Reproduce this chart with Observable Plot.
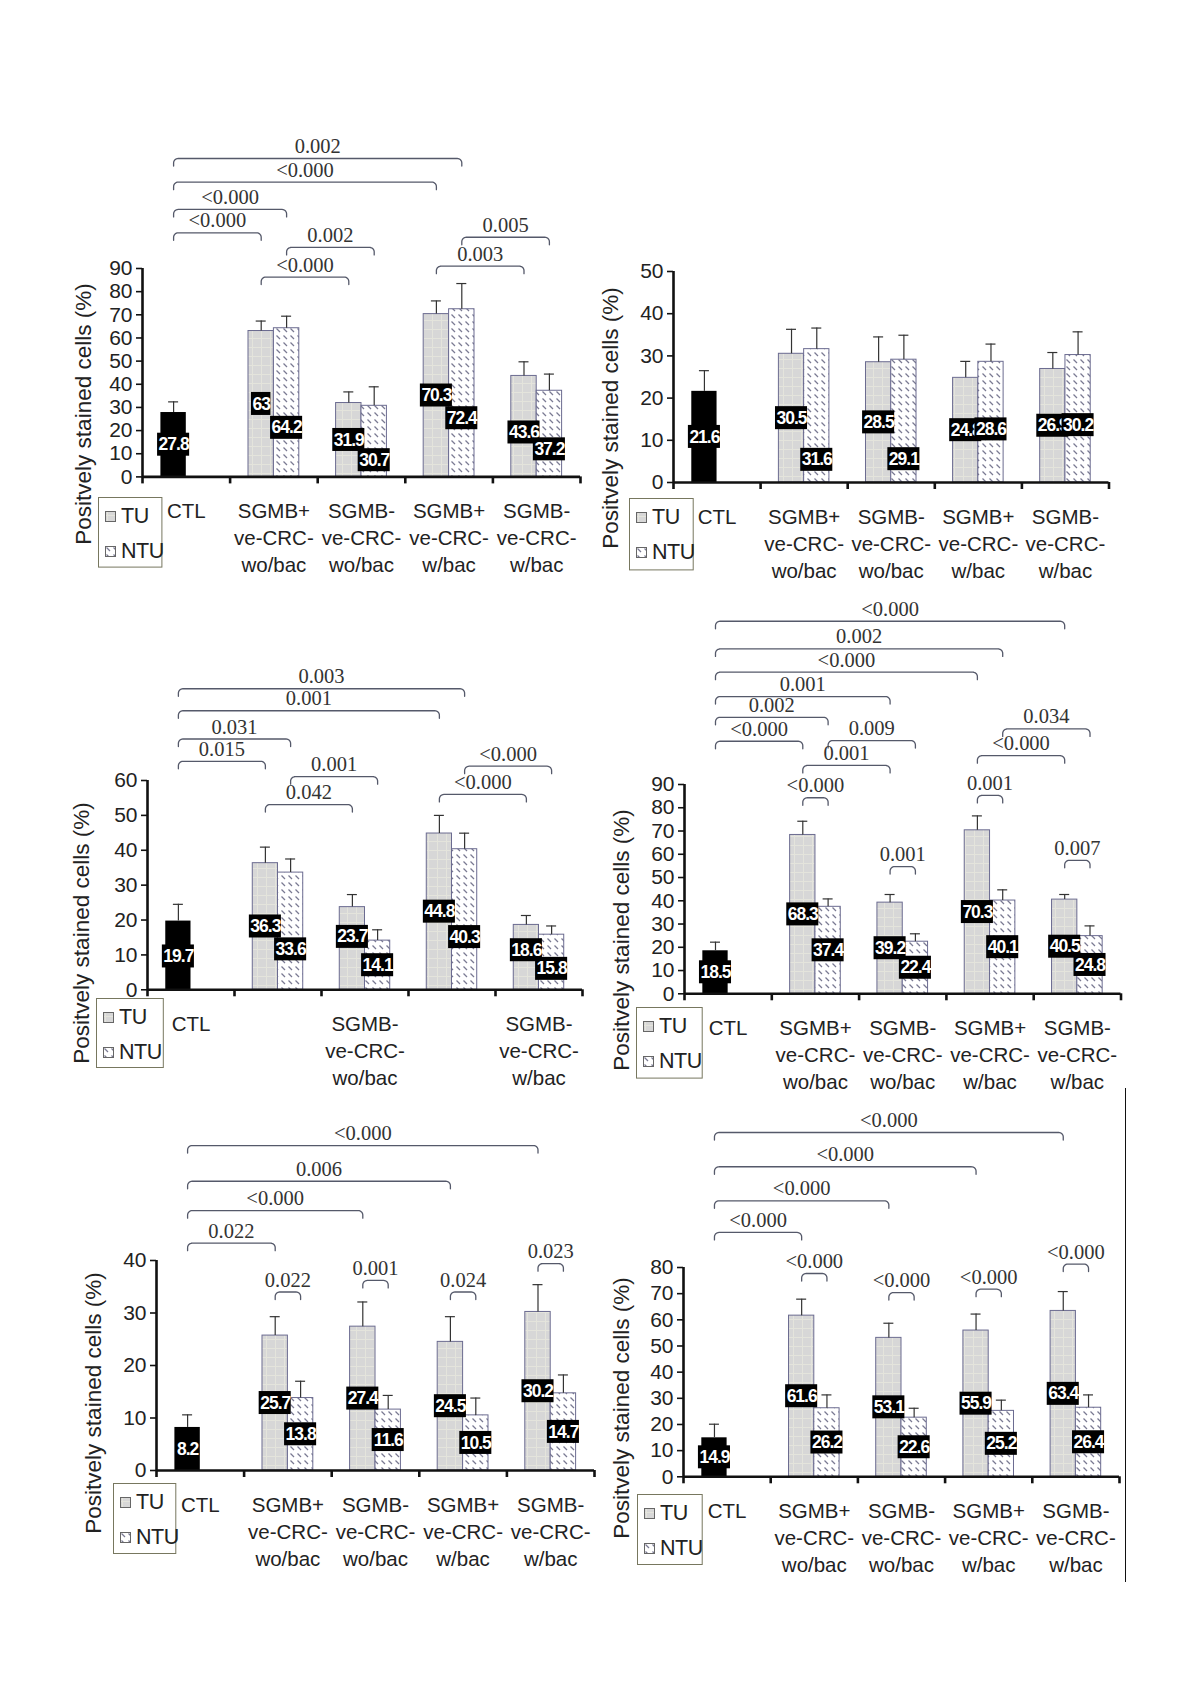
<!DOCTYPE html>
<html>
<head>
<meta charset="utf-8">
<script src="https://cdn.jsdelivr.net/npm/d3@7"></script>
<script src="https://cdn.jsdelivr.net/npm/@observablehq/plot@0.6"></script>
<style>
  body { margin: 0; background: #fff; }
  #page { position: relative; width: 1200px; height: 1697px; overflow: hidden; background: #fff;
          font-family: "Liberation Sans", Arial, sans-serif; color: #222; }
  .ytitle { position: absolute; white-space: nowrap; font-size: 22.5px; color: #222;
            transform: translate(-50%, -50%) rotate(-90deg); }
  svg { display: block; }
</style>
</head>
<body>
<div id="page"></div>
<script>
// ---------------- DATA ----------------
const categories = ["CTL", "SGMB+\nve-CRC-\nwo/bac", "SGMB-\nve-CRC-\nwo/bac", "SGMB+\nve-CRC-\nw/bac", "SGMB-\nve-CRC-\nw/bac"];
const categoriesP3 = ["CTL", "", "SGMB-\nve-CRC-\nwo/bac", "", "SGMB-\nve-CRC-\nw/bac"];
const seriesNames = ["TU", "NTU"];
const yTitle = "Positvely stained cells (%)";

const p1TU = [27.8, 63, 31.9, 70.3, 43.6];
const p1NTU = [null, 64.2, 30.7, 72.4, 37.2];
const p1TUerr = [4.6, 4.3, 4.8, 5.7, 6.1];
const p1NTUerr = [null, 5.2, 8.2, 11.1, 7.2];
const p1Ticks = [0, 10, 20, 30, 40, 50, 60, 70, 80, 90];
// [group, series, group, series, p-value, bracket level]
const p1Brackets = [
  [0, 0, 3, 1, "0.002", 137.5],
  [0, 0, 3, 0, "<0.000", 127.3],
  [0, 0, 1, 1, "<0.000", 115.5],
  [0, 0, 1, 0, "<0.000", 105.4],
  [1, 1, 2, 1, "0.002", 99.1],
  [1, 0, 2, 0, "<0.000", 86.3],
  [3, 0, 4, 0, "0.003", 91],
  [3, 1, 4, 1, "0.005", 103.5]
];

const p2TU = [21.6, 30.5, 28.5, 24.8, 26.9];
const p2NTU = [null, 31.6, 29.1, 28.6, 30.2];
const p2TUerr = [4.9, 5.8, 6.0, 3.9, 3.9];
const p2NTUerr = [null, 5.0, 5.8, 4.2, 5.5];
const p2Ticks = [0, 10, 20, 30, 40, 50];
const p2Brackets = [];

const p3TU = [19.7, 36.3, 23.7, 44.8, 18.6];
const p3NTU = [null, 33.6, 14.1, 40.3, 15.8];
const p3TUerr = [4.8, 4.6, 3.6, 5.2, 2.7];
const p3NTUerr = [null, 3.9, 3.1, 4.6, 2.5];
const p3Ticks = [0, 10, 20, 30, 40, 50, 60];
const p3Brackets = [
  [0, 0, 3, 1, "0.003", 86.3],
  [0, 0, 3, 0, "0.001", 80],
  [0, 0, 1, 1, "0.031", 71.9],
  [0, 0, 1, 0, "0.015", 65.5],
  [1, 1, 2, 1, "0.001", 61.1],
  [1, 0, 2, 0, "0.042", 53.1],
  [3, 1, 4, 1, "<0.000", 64.1],
  [3, 0, 4, 0, "<0.000", 56]
];

const p4TU = [18.5, 68.3, 39.2, 70.3, 40.5];
const p4NTU = [null, 37.4, 22.4, 40.1, 24.8];
const p4TUerr = [3.7, 5.9, 3.5, 6.2, 2.2];
const p4NTUerr = [null, 3.4, 3.4, 4.6, 4.4];
const p4Ticks = [0, 10, 20, 30, 40, 50, 60, 70, 80, 90];
const p4Brackets = [
  [0, 0, 4, 0, "<0.000", 160.2],
  [0, 0, 3, 1, "0.002", 148.3],
  [0, 0, 3, 0, "<0.000", 138.3],
  [0, 0, 2, 0, "0.001", 127.8],
  [0, 0, 1, 1, "0.002", 118.9],
  [0, 0, 1, 0, "<0.000", 108.6],
  [1, 1, 2, 1, "0.009", 108.9],
  [1, 0, 2, 0, "0.001", 98.2],
  [1, 0, 1, 1, "<0.000", 84.3],
  [3, 1, 4, 1, "0.034", 113.9],
  [3, 0, 4, 0, "<0.000", 102.4],
  [3, 0, 3, 1, "0.001", 85.3],
  [2, 0, 2, 1, "0.001", 54.7],
  [4, 0, 4, 1, "0.007", 57.4]
];

const p5TU = [8.2, 25.7, 27.4, 24.5, 30.2];
const p5NTU = [null, 13.8, 11.6, 10.5, 14.7];
const p5TUerr = [2.4, 3.6, 4.7, 4.8, 5.2];
const p5NTUerr = [null, 3.2, 2.7, 3.3, 3.5];
const p5Ticks = [0, 10, 20, 30, 40];
const p5Brackets = [
  [0, 0, 4, 0, "<0.000", 61.9],
  [0, 0, 3, 0, "0.006", 55.1],
  [0, 0, 2, 0, "<0.000", 49.5],
  [0, 0, 1, 0, "0.022", 43.3],
  [1, 0, 1, 1, "0.022", 34],
  [2, 0, 2, 1, "0.001", 36.2],
  [3, 0, 3, 1, "0.024", 34],
  [4, 0, 4, 1, "0.023", 39.4]
];

const p6TU = [14.9, 61.6, 53.1, 55.9, 63.4];
const p6NTU = [null, 26.2, 22.6, 25.2, 26.4];
const p6TUerr = [5.2, 6.3, 5.6, 6.3, 7.4];
const p6NTUerr = [null, 5.1, 3.6, 4.1, 4.9];
const p6Ticks = [0, 10, 20, 30, 40, 50, 60, 70, 80];
const p6Brackets = [
  [0, 0, 4, 0, "<0.000", 131.6],
  [0, 0, 3, 0, "<0.000", 118.5],
  [0, 0, 2, 0, "<0.000", 105.5],
  [0, 0, 1, 0, "<0.000", 93.4],
  [1, 0, 1, 1, "<0.000", 77.7],
  [2, 0, 2, 1, "<0.000", 70.4],
  [3, 0, 3, 1, "<0.000", 71.7],
  [4, 0, 4, 1, "<0.000", 81.3]
];

// ---------------- LAYOUT (pixels on the page) ----------------
const half = [0.5, 0.5, 0.5, 0.5, 0.5];
const layout = {
  p1: {axisX: 141.7, step: 87.6, y0: 476.7, yTop: 268.3, ymax: 90, title: [84, 414], legend: [98.3, 496.7, 64.4, 70.6],
       tuFrac: [0.5, 0.5, 0.5, 0.5, 0.44], ntuFrac: [null, 0.33, 0.235, 0.35, 0.32]},
  p2: {axisX: 672.7, step: 87.1, y0: 481.7, yTop: 270.7, ymax: 50, title: [611, 418], legend: [629.3, 498.3, 64.7, 72.4],
       tuFrac: half, ntuFrac: [null, 0.17, 0.19, 0.44, 0.45]},
  p3: {axisX: 147, step: 87, y0: 989.3, yTop: 780, ymax: 60, title: [82, 933], legend: [96.2, 998.3, 67.8, 70],
       tuFrac: [0.485, 0.5, 0.64, 0.5, 0.61], ntuFrac: [null, 0.345, 0.5, 0.375, 0.38]},
  p4: {axisX: 684.4, step: 87.3, y0: 993.3, yTop: 784, ymax: 90, title: [622, 940], legend: [636, 1006.7, 66.7, 71.6],
       tuFrac: half, ntuFrac: half},
  p5: {axisX: 155.5, step: 87.6, y0: 1470, yTop: 1260, ymax: 40, title: [93.5, 1403], legend: [112.7, 1483.3, 63.3, 71],
       tuFrac: half, ntuFrac: half},
  p6: {axisX: 683, step: 87.2, y0: 1476, yTop: 1266.7, ymax: 80, title: [621.7, 1408], legend: [637, 1494, 65.7, 71],
       tuFrac: half, ntuFrac: half}
};

// ---------------- DRAWING ----------------
const page = document.getElementById("page");
const W = 0.29;           // bar width in category units
const mL = 70, mR = 20, mT = 200, mB = 110;
const SANS = '"Liberation Sans", Arial, sans-serif';
const SERIF = '"Liberation Serif", "Times New Roman", serif';
const LAB_FS = 17.5, LAB_LS = -1;

function addPatterns(svgNode, key) {
  const defs = d3.select(svgNode).insert("defs", ":first-child");
  const tu = defs.append("pattern").attr("id", "tu-" + key).attr("patternUnits", "userSpaceOnUse")
    .attr("width", 9).attr("height", 9);
  tu.append("rect").attr("width", 9).attr("height", 9).attr("fill", "#d7d7d7");
  tu.append("path").attr("d", "M0,0.5H9M0.5,0V9").attr("stroke", "#e4e4dc").attr("stroke-width", 1);
  const ntu = defs.append("pattern").attr("id", "ntu-" + key).attr("patternUnits", "userSpaceOnUse")
    .attr("width", 7).attr("height", 7);
  ntu.append("rect").attr("width", 7).attr("height", 7).attr("fill", "#fff");
  ntu.append("path").attr("d", "M1.5,1.5L5,5").attr("stroke", "#7a7a92").attr("stroke-width", 1.2);
}

function labelWidthPx(s) {
  let w = 0;
  for (const ch of s) w += (ch === "." ? 0.278 : 0.556) * LAB_FS + LAB_LS;
  return w + 2;
}

function panel(key, d) {
  const L = layout[key];
  const ppu = (L.y0 - L.yTop) / L.ymax;
  const ux = px => px / L.step;
  const uy = px => px / ppu;
  const center = (i, s) => i + 0.5 + (s ? W / 2 : -W / 2);

  const bars = [];
  d.tu.forEach((v, i) => bars.push({i, s: 0, v, e: d.tuErr[i], f: L.tuFrac[i]}));
  d.ntu.forEach((v, i) => { if (v != null) bars.push({i, s: 1, v, e: d.ntuErr[i], f: L.ntuFrac[i]}); });
  bars.forEach(b => { b.c = center(b.i, b.s); b.lab = String(b.v); b.ly = b.v * b.f; b.hw = labelWidthPx(b.lab) / 2; });
  const tuLab = bars.filter(b => b.s === 0), ntuLab = bars.filter(b => b.s === 1);

  const brs = d.brackets.map(([g1, s1, g2, s2, label, level], k) => ({k, xa: center(g1, s1), xb: center(g2, s2), label, level}));
  const pts = [];
  const rx = ux(4.5), ry = uy(4.5), dY = uy(7.5);
  for (const b of brs) {
    pts.push({k: b.k, x: b.xa, y: b.level - dY});
    for (let t = 0; t <= 8; t++) {
      const a = Math.PI - t * (Math.PI / 2) / 8;
      pts.push({k: b.k, x: b.xa + rx + rx * Math.cos(a), y: b.level - ry + ry * Math.sin(a)});
    }
    for (let t = 0; t <= 8; t++) {
      const a = Math.PI / 2 - t * (Math.PI / 2) / 8;
      pts.push({k: b.k, x: b.xb - rx + rx * Math.cos(a), y: b.level - ry + ry * Math.sin(a)});
    }
    pts.push({k: b.k, x: b.xb, y: b.level - dY});
  }

  const catRows = [];
  d.cats.forEach((c, i) => c.split("\n").forEach((t, k) => { if (t) catRows.push({i, k, t}); }));
  const catMarks = [0, 1, 2].map(k => Plot.text(catRows.filter(r => r.k === k), {
    x: r => r.i + 0.5, y: () => 0, text: "t", dy: 35 + 27 * k, fontSize: 20.5, fill: "#222", fontFamily: SANS
  }));

  const svg = Plot.plot({
    width: mL + 5 * L.step + mR,
    height: mT + (L.y0 - L.yTop) + mB,
    marginLeft: mL, marginRight: mR, marginTop: mT, marginBottom: mB,
    x: {domain: [0, 5], axis: null, inset: 0},
    y: {domain: [0, L.ymax], axis: null, inset: 0},
    style: {fontFamily: SANS, fontSize: "20px", background: "transparent", overflow: "visible", color: "#111"},
    marks: [
      // bars
      Plot.rect(bars.filter(b => b.i === 0), {x1: b => b.c - W / 2, x2: b => b.c + W / 2, y1: () => 0, y2: "v", fill: "#000"}),
      Plot.rect(bars.filter(b => b.i > 0 && b.s === 0), {x1: b => b.c - W / 2, x2: b => b.c + W / 2, y1: () => 0, y2: "v",
        fill: `url(#tu-${key})`, stroke: "#6b6b90", strokeWidth: 1}),
      Plot.rect(bars.filter(b => b.s === 1), {x1: b => b.c - W / 2, x2: b => b.c + W / 2, y1: () => 0, y2: "v",
        fill: `url(#ntu-${key})`, stroke: "#6b6b90", strokeWidth: 1}),
      // error bars
      Plot.ruleX(bars, {x: "c", y1: "v", y2: b => b.v + b.e, stroke: "#333", strokeWidth: 1.2}),
      Plot.ruleY(bars, {y: b => b.v + b.e, x1: b => b.c - ux(5), x2: b => b.c + ux(5), stroke: "#333", strokeWidth: 1.2}),
      // axes
      Plot.ruleX([0], {y1: () => 0, y2: () => L.ymax, stroke: "#111", strokeWidth: 2.6}),
      Plot.ruleY([0], {x1: () => 0, x2: () => 5, stroke: "#111", strokeWidth: 2.6}),
      Plot.ruleY(d.ticks, {y: t => t, x1: () => -ux(6), x2: () => 0, stroke: "#111", strokeWidth: 1.6}),
      Plot.ruleX([0, 1, 2, 3, 4, 5], {x: t => t, y1: () => 0, y2: () => -uy(7), stroke: "#111", strokeWidth: 2.6}),
      Plot.text(d.ticks, {x: () => 0, y: t => t, text: t => String(t), textAnchor: "end", dx: -10, fontSize: 21, fill: "#222", fontFamily: SANS}),
      ...catMarks,
      // value labels
      Plot.rect(tuLab, {x1: b => b.c - ux(b.hw), x2: b => b.c + ux(b.hw), y1: b => b.ly - uy(11.5), y2: b => b.ly + uy(11.5), fill: "#000"}),
      Plot.text(tuLab, {x: "c", y: "ly", text: "lab", fill: "white", fontWeight: "bold", fontSize: LAB_FS, fontFamily: SANS}),
      Plot.rect(ntuLab, {x1: b => b.c - ux(b.hw), x2: b => b.c + ux(b.hw), y1: b => b.ly - uy(11.5), y2: b => b.ly + uy(11.5), fill: "#000"}),
      Plot.text(ntuLab, {x: "c", y: "ly", text: "lab", fill: "white", fontWeight: "bold", fontSize: LAB_FS, fontFamily: SANS}),
      // significance brackets
      Plot.line(pts, {x: "x", y: "y", z: "k", stroke: "#55596a", strokeWidth: 1.3}),
      Plot.text(brs, {x: b => (b.xa + b.xb) / 2, y: "level", text: "label", dy: -12, fontSize: 20.5, fill: "#333", fontFamily: SERIF})
    ]
  });
  addPatterns(svg, key);
  d3.select(svg).selectAll('g[fill="white"]').style("letter-spacing", LAB_LS + "px");

  const wrap = document.createElement("div");
  wrap.style.cssText = `position:absolute;left:${L.axisX - mL}px;top:${L.yTop - mT}px;`;
  wrap.appendChild(svg);
  page.appendChild(wrap);

  // y title
  const t = document.createElement("div");
  t.className = "ytitle";
  t.style.left = L.title[0] + "px";
  t.style.top = L.title[1] + "px";
  t.textContent = yTitle;
  page.appendChild(t);

  // legend
  const [lx, ly, lw, lh] = L.legend;
  const lg = d3.create("svg").attr("width", lw + 20).attr("height", lh + 2)
    .style("position", "absolute").style("left", lx + "px").style("top", ly + "px").style("overflow", "visible");
  addPatterns(lg.node(), key + "L");
  lg.append("rect").attr("x", 0.5).attr("y", 0.5).attr("width", lw - 1).attr("height", lh - 1)
    .attr("fill", "none").attr("stroke", "#77775f").attr("stroke-width", 1);
  seriesNames.forEach((name, s) => {
    const base = s === 0 ? 26 : 61;
    lg.append("rect").attr("x", 7.5).attr("y", base - 11.5).attr("width", 10).attr("height", 10)
      .attr("fill", `url(#${s === 0 ? "tu" : "ntu"}-${key}L)`).attr("stroke", "#666").attr("stroke-width", 1);
    lg.append("text").attr("x", 23).attr("y", base).attr("font-family", SANS).attr("font-size", 21.5)
      .attr("letter-spacing", "-0.5").attr("fill", "#222").text(name);
  });
  page.appendChild(lg.node());
}

panel("p1", {tu: p1TU, ntu: p1NTU, tuErr: p1TUerr, ntuErr: p1NTUerr, ticks: p1Ticks, brackets: p1Brackets, cats: categories});
panel("p2", {tu: p2TU, ntu: p2NTU, tuErr: p2TUerr, ntuErr: p2NTUerr, ticks: p2Ticks, brackets: p2Brackets, cats: categories});
panel("p3", {tu: p3TU, ntu: p3NTU, tuErr: p3TUerr, ntuErr: p3NTUerr, ticks: p3Ticks, brackets: p3Brackets, cats: categoriesP3});
panel("p4", {tu: p4TU, ntu: p4NTU, tuErr: p4TUerr, ntuErr: p4NTUerr, ticks: p4Ticks, brackets: p4Brackets, cats: categories});
panel("p5", {tu: p5TU, ntu: p5NTU, tuErr: p5TUerr, ntuErr: p5NTUerr, ticks: p5Ticks, brackets: p5Brackets, cats: categories});
panel("p6", {tu: p6TU, ntu: p6NTU, tuErr: p6TUerr, ntuErr: p6NTUerr, ticks: p6Ticks, brackets: p6Brackets, cats: categories});

// page border line at right of the last panel
const vline = document.createElement("div");
vline.style.cssText = "position:absolute;left:1124.5px;top:1088px;width:1.5px;height:494px;background:#111;";
page.appendChild(vline);
</script>
</body>
</html>
